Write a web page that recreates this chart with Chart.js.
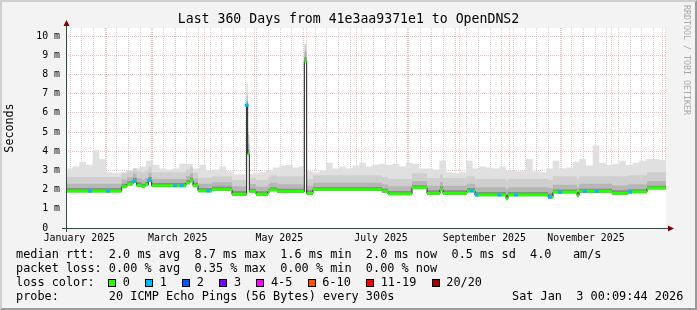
<!DOCTYPE html>
<html>
<head>
<meta charset="utf-8">
<script src="https://cdn.jsdelivr.net/npm/chart.js@4.4.1/dist/chart.umd.min.js"></script>
<style>
  body { margin: 0; }
  .frame { position: absolute; left: 0; top: 0; width: 697px; height: 310px; box-sizing: border-box;
           background: #f3f3f3; border-top: 2px solid #cfcfcf; border-left: 2px solid #cfcfcf;
           border-right: 2px solid #9a9a9a; border-bottom: 2px solid #9a9a9a; }
  canvas { position: absolute; left: 0; top: 0; }
  .txt { position: absolute; font-family: 'DejaVu Sans Mono', monospace; font-size: 11.86px;
         line-height: 14px; white-space: pre; color: #000; }
  .title { left: 0; width: 697px; top: 11px; text-align: center; font-size: 13.2px; line-height: 16px; }
  .rrd { left: 682px; top: 5px; font-size: 8.3px; line-height: 10px; color: #a8a8a8; writing-mode: vertical-rl; }
  .box { display: inline-block; width: 8px; height: 8px; box-sizing: border-box; border: 1px solid #000;
         margin-right: 6.5px; vertical-align: -1px; }
  .lab { margin-right: 15.4px; }
</style>
</head>
<body>
<div class="frame"></div>
<canvas id="chart" width="697" height="310"></canvas>
<div class="txt title">Last 360 Days from 41e3aa9371e1 to OpenDNS2</div>
<div class="txt rrd">RRDTOOL / TOBI OETIKER</div>
<div class="txt" style="left:16px; top:247px">median rtt:  2.0 ms avg  8.7 ms max  1.6 ms min  2.0 ms now  0.5 ms sd  4.0   am/s</div>
<div class="txt" style="left:16px; top:261px">packet loss: 0.00 % avg  0.35 % max  0.00 % min  0.00 % now</div>
<div class="txt" style="left:16px; top:275px">loss color:</div>
<div class="txt" id="lossLegend" style="left:108.3px; top:275px"></div>
<div class="txt" style="left:16px; top:289px">probe:       20 ICMP Echo Pings (56 Bytes) every 300s</div>
<div class="txt" style="left:512px; top:289px">Sat Jan  3 00:09:44 2026</div>

<script>
const MONO = "'DejaVu Sans Mono', monospace";

// days since start of the window (Jan 8 2025), median rtt in ms
const medianDays = [0, 33.4, 36.6, 40.2, 42.4, 45.4, 47.4, 49.4, 51.4, 72, 74.4, 76.2, 79.2, 87.6, 99.6,
  108.4, 109, 110, 114, 121.2, 122.4, 126.6, 143, 144.4, 148.2, 189.6, 193.2, 207.6, 216.6, 224.4,
  226.2, 240.6, 245.4, 264, 265.2, 289.2, 292.2, 306.6, 307.8, 327.6, 337.2, 348.6, 360];
const medianVals = [1.92, 2.15, 2.28, 2.42, 2.22, 2.15, 2.25, 2.47, 2.2, 2.35, 2.46, 2.2, 1.93, 2.0, 1.75,
  6.4, 3.85, 1.9, 1.75, 1.9, 1.98, 1.9, 8.7, 1.8, 2.0, 1.9, 1.77, 2.1, 1.8, 2.0,
  1.8, 1.93, 1.72, 1.52, 1.72, 1.6, 1.86, 1.68, 1.9, 1.8, 1.87, 2.07, 2.07];

// smoke layers (same breakpoints as the median)
const smokeLow = [2.08, 2.3, 2.43, 2.6, 2.38, 2.3, 2.4, 2.65, 2.34, 2.5, 2.63, 2.36, 2.08, 2.16, 1.93,
  6.6, 4.1, 2.04, 1.91, 2.04, 2.12, 2.04, 8.9, 1.96, 2.14, 2.04, 1.93, 2.23, 1.96, 2.16,
  1.96, 2.08, 1.88, 1.75, 1.88, 1.8, 2.0, 1.86, 2.04, 1.96, 2.02, 2.2, 2.2];
const smokeMid = [2.3, 2.52, 2.65, 2.82, 2.6, 2.52, 2.62, 2.88, 2.55, 2.72, 2.85, 2.58, 2.3, 2.38, 2.18,
  6.9, 4.4, 2.28, 2.15, 2.28, 2.36, 2.28, 9.2, 2.2, 2.36, 2.28, 2.18, 2.45, 2.2, 2.4,
  2.2, 2.3, 2.12, 2.02, 2.12, 2.08, 2.25, 2.12, 2.3, 2.22, 2.28, 2.45, 2.45];
const smokeHigh = [2.65, 2.85, 2.95, 3.1, 2.95, 2.9, 3.0, 3.2, 2.9, 3.05, 3.2, 2.9, 2.62, 2.7, 2.5,
  7.5, 4.9, 2.6, 2.5, 2.65, 2.75, 2.7, 9.6, 2.55, 2.75, 2.65, 2.55, 2.85, 2.6, 2.8,
  2.6, 2.7, 2.55, 2.45, 2.55, 2.5, 2.7, 2.55, 2.7, 2.7, 2.75, 2.9, 2.9];

// outer smoke envelope, one value every 4 days
const smokeMax = [3.1, 3.2, 3.45, 3.3, 4.05, 3.6, 2.9, 2.85, 2.9, 3.0,
  3.1, 3.2, 3.5, 3.3, 3.1, 3.05, 3.1, 3.35, 3.35, 3.1,
  3.3, 3.0, 3.05, 3.2, 2.95, 2.8, 2.8, 2.8, 2.85, 2.9,
  3.0, 3.15, 3.25, 3.3, 3.15, 3.2, 2.95, 2.9, 3.0, 3.4,
  3.1, 3.2, 3.1, 3.25, 3.4, 3.2, 3.3, 3.35, 3.3, 3.35,
  3.2, 3.4, 3.35, 3.1, 3.1, 3.05, 3.5, 2.9, 2.85, 2.9,
  3.5, 3.1, 3.2, 3.15, 3.1, 3.2, 3.0, 2.95, 2.95, 3.6,
  2.95, 2.9, 3.1, 3.5, 3.1, 3.15, 3.45, 3.6, 3.25, 4.3,
  3.4, 3.3, 3.35, 3.5, 3.3, 3.4, 3.5, 3.6, 3.6, 3.55, 3.5];

// samples with 1/20 loss
const lossDays = [14.4, 25.2, 40.6, 49.8, 65.4, 69.4, 85.4, 108.4, 243.4, 246.4, 260, 270, 290.4, 296.4, 311.4, 318.4, 338.4];
const lossVals = [1.92, 1.92, 2.42, 2.47, 2.2, 2.2, 1.93, 6.4, 1.93, 1.72, 1.72, 1.72, 1.6, 1.86, 1.9, 1.9, 1.87];

const monthDays = [24, 52, 83, 113, 144, 174, 205, 236, 266, 297, 327, 358];
const labelDays = [8, 67, 128, 189, 251, 312];
const labelTexts = ['January 2025', 'March 2025', 'May 2025', 'July 2025', 'September 2025', 'November 2025'];

const lossLabels = ['0', '1', '2', '3', '4-5', '6-10', '11-19', '20/20'];
const lossColors = ['#26ff00', '#00b8ff', '#0059ff', '#7e00ff', '#ff00ff', '#ff5500', '#ff0000', '#a10000'];

const GRID = 'rgba(140,140,140,0.4)';
const MGRID = 'rgba(246,96,96,0.42)';
const AXIS = '#2c4d43';
const ARROW = '#7f0000';

document.getElementById('lossLegend').innerHTML = lossLabels.map((l, i) =>
  '<span class="box" style="background:' + lossColors[i] + '"></span><span class="lab">' + l + '</span>').join('');

const pts = (xs, ys) => xs.map((x, i) => ({x: x, y: ys[i]}));

const greenPts = [];
for (let i = 0; i < medianDays.length - 1; i++) {
  greenPts.push({x: medianDays[i], y: medianVals[i]}, {x: medianDays[i + 1], y: medianVals[i]}, {x: medianDays[i + 1], y: null});
}

const weekDays = [];
for (let d = 2.4; d < 360; d += 7) weekDays.push(d);
const xTicks = [...weekDays, ...monthDays, ...labelDays].sort((a, b) => a - b).map(v => ({value: v}));
const yTicks = [];
for (let i = 0; i <= 20; i++) yTicks.push({value: i / 2});

const band = (data, color) => ({
  data: data, stepped: true, borderWidth: 0, pointRadius: 0,
  fill: 'origin', backgroundColor: color, borderColor: color
});

const frame = {
  id: 'frame',
  beforeDraw(chart) {
    const {ctx, chartArea: a} = chart;
    ctx.save();
    ctx.fillStyle = '#ffffff';
    ctx.fillRect(a.left, a.top, a.right - a.left, a.bottom - a.top);
    ctx.restore();
  },
  afterDraw(chart) {
    const {ctx, chartArea: a} = chart;
    ctx.save();
    ctx.strokeStyle = AXIS;
    ctx.lineWidth = 1;
    ctx.beginPath();
    ctx.moveTo(a.left - 4, a.bottom + 0.5);
    ctx.lineTo(a.right + 4, a.bottom + 0.5);
    ctx.moveTo(a.left + 0.5, a.bottom + 4);
    ctx.lineTo(a.left + 0.5, a.top - 4);
    ctx.stroke();
    ctx.fillStyle = ARROW;
    ctx.beginPath();
    ctx.moveTo(a.right + 2, a.bottom - 2.5);
    ctx.lineTo(a.right + 8, a.bottom + 0.5);
    ctx.lineTo(a.right + 2, a.bottom + 3.5);
    ctx.fill();
    ctx.beginPath();
    ctx.moveTo(a.left - 2.5, a.top - 2);
    ctx.lineTo(a.left + 0.5, a.top - 8);
    ctx.lineTo(a.left + 3.5, a.top - 2);
    ctx.fill();
    ctx.restore();
  }
};

new Chart(document.getElementById('chart'), {
  type: 'line',
  data: {
    datasets: [
      {
        type: 'scatter', data: pts(lossDays, lossVals), pointStyle: 'line', pointRadius: 2,
        pointBorderWidth: 3, pointBorderColor: lossColors[1], showLine: false
      },
      {data: greenPts, borderColor: lossColors[0], borderWidth: 3, pointRadius: 0, spanGaps: false},
      {
        data: pts(medianDays, medianVals), stepped: true, borderColor: '#202020', borderWidth: 1,
        pointRadius: 0, fill: 'origin', backgroundColor: '#ffffff'
      },
      band(pts(medianDays, smokeLow), '#8c8c8c'),
      band(pts(medianDays, smokeMid), '#b6b6b6'),
      band(pts(medianDays, smokeHigh), '#cfcfcf'),
      band(pts(smokeMax.map((v, i) => i * 4), smokeMax), '#e0e0e0')
    ]
  },
  options: {
    responsive: false,
    animation: false,
    devicePixelRatio: 1,
    layout: {padding: {top: 28, right: 31, left: 0, bottom: 0}},
    plugins: {legend: {display: false}, tooltip: {enabled: false}},
    scales: {
      x: {
        type: 'linear', min: 0, max: 360, bounds: 'data', z: 1,
        afterBuildTicks: s => { s.ticks = xTicks; },
        afterFit: s => { s.height = 82; },
        grid: {
          drawTicks: false,
          color: c => monthDays.includes(c.tick.value) ? MGRID : (labelDays.includes(c.tick.value) ? 'rgba(0,0,0,0)' : GRID)
        },
        border: {display: false, dash: [1, 1]},
        ticks: {
          autoSkip: false, maxRotation: 0, minRotation: 0, padding: 4, color: '#000',
          font: {family: MONO, size: 9.9},
          callback: v => { const i = labelDays.indexOf(v); return i < 0 ? '' : labelTexts[i]; }
        }
      },
      y: {
        min: 0, max: 10.4167, bounds: 'data', z: 1,
        afterBuildTicks: s => { s.ticks = yTicks; },
        afterFit: s => { s.width = 66; },
        grid: {drawTicks: false, color: c => Number.isInteger(c.tick.value) ? MGRID : GRID},
        border: {display: false, dash: [1, 1]},
        ticks: {
          padding: 6, color: '#000', font: {family: MONO, size: 9.9},
          callback: v => Number.isInteger(v) ? (v === 0 ? '0  ' : v + ' m') : ''
        },
        title: {display: true, text: 'Seconds', color: '#000', font: {family: MONO, size: 11.7}, padding: {top: 3, bottom: 0}}
      }
    }
  },
  plugins: [frame]
});
</script>
</body>
</html>
